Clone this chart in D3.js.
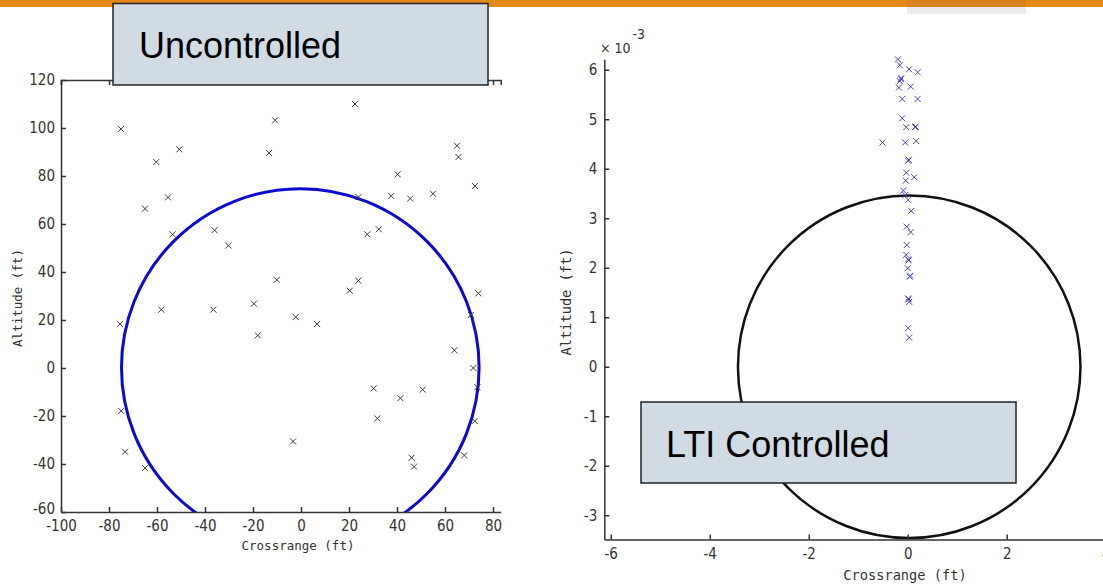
<!DOCTYPE html>
<html>
<head>
<meta charset="utf-8">
<script src="https://cdn.jsdelivr.net/npm/d3@7"></script>
<style>
  html, body { margin: 0; padding: 0; background: #fff; }
  svg { display: block; }
  .tick text { font-family: "Liberation Sans Narrow", "DejaVu Sans Condensed", "Liberation Sans", sans-serif; font-size: 15px; fill: #333; }
  .axlabel { font-family: "DejaVu Sans Mono", monospace; fill: #333; }
</style>
</head>
<body>
<script>
// ---------- DATA ----------
// Uncontrolled (left) scatter, ft
const uncX = [-75, -50.7, -60.3, -55.4, -65, -53.5, -36, -30.3, -58.2, -36.5, -19.6, -10.8, -13.3, -10.1,
  -75.4, -18, -74.9, -73.3, -65, 22.5, 65, 65.6, 40.3, 72.5, 37.6, 45.5, 55, 23.9, 27.6, 32.4, 23.9, 20.3,
  73.9, -2.2, 6.7, 63.9, 70.8, 71.8, 73.5, 30.3, 50.7, 41.4, 31.8, 72.4, -3.3, 46.1, 47.1, 68];
const uncY = [99.6, 91.1, 85.8, 71.1, 66.4, 55.7, 57.4, 51, 24.3, 24.3, 26.8, 103.2, 89.6, 36.7,
  18.3, 13.6, -17.9, -34.9, -41.7, 110, 92.6, 87.9, 80.7, 75.8, 71.7, 70.6, 72.6, 71.2, 55.7, 57.8, 36.4, 32.2,
  31.1, 21.2, 18.3, 7.4, 22.1, 0, -8, -8.5, -9, -12.6, -21, -22.1, -30.6, -37.4, -41.1, -36.4];
// LTI controlled (right) scatter: crossrange (ft), altitude (x10^-3 ft)
const ltiX = [-0.196, -0.16, 0.027, 0.2, -0.14, -0.13, -0.16, -0.18, 0.06, -0.11, 0.2, -0.11, -0.03, 0.15, 0.16,
  -0.51, -0.05, 0.17, 0.01, 0.02, -0.03, 0.13, -0.04, -0.09, -0.05, 0.01, 0.07, -0.02, 0.06, -0.02,
  -0.03, 0.01, 0.02, 0, 0.04, 0.05, 0.01, 0.02, 0.03, 0.01, 0.03];
const ltiY = [6.21, 6.09, 6.01, 5.95, 5.81, 5.83, 5.77, 5.64, 5.66, 5.41, 5.41, 5.02, 4.84, 4.84, 4.85,
  4.53, 4.53, 4.56, 4.16, 4.18, 3.92, 3.83, 3.76, 3.56, 3.47, 3.37, 3.15, 2.83, 2.72, 2.46,
  2.26, 2.17, 2.15, 1.99, 1.82, 1.84, 1.38, 1.36, 1.31, 0.78, 0.59];
// Threshold circles: [centerX, centerY, radius]
const uncCircle = [-0.3, 0.2, 74.5];
const ltiCircle = [0.03, 0, 3.46];
// Ticks
const uncXTicks = [-100, -80, -60, -40, -20, 0, 20, 40, 60, 80];
const uncYTicks = [-60, -40, -20, 0, 20, 40, 60, 80, 100, 120];
const ltiXTicks = [-6, -4, -2, 0, 2, 4];
const ltiYTicks = [-3, -2, -1, 0, 1, 2, 3, 4, 5, 6];
// Labels
const xLabel = "Crossrange (ft)";
const yLabel = "Altitude (ft)";
const boxLabels = ["Uncontrolled", "LTI Controlled"];

// ---------- DRAW ----------
const W = 1103, H = 588;
const svg = d3.select("body").append("svg").attr("width", W).attr("height", H);

// top decoration bar
svg.append("rect").attr("x", 0).attr("y", 0).attr("width", W).attr("height", 7).attr("fill", "#E2891A");
svg.append("rect").attr("x", 907).attr("y", 0).attr("width", 119).attr("height", 7).attr("fill", "#D8821C");
svg.append("rect").attr("x", 907).attr("y", 7).attr("width", 119).attr("height", 7).attr("fill", "#EDEBEB");

function fmt(d) { return String(d); }

function xMarks(g, xs, ys, x, y, color, half) {
  g.selectAll("path.mk").data(xs.map((d, i) => [d, ys[i]])).join("path")
    .attr("class", "mk")
    .attr("d", d => {
      const px = x(d[0]), py = y(d[1]);
      return `M${px - half},${py - half}L${px + half},${py + half}M${px - half},${py + half}L${px + half},${py - half}`;
    })
    .attr("stroke", color).attr("stroke-width", 1).attr("fill", "none");
}

function styleAxis(g) {
  g.selectAll(".domain").attr("stroke", "#333").attr("stroke-width", 1.5);
  g.selectAll(".tick line").attr("stroke", "#333").attr("stroke-width", 1.5);
}

// ----- Left plot -----
{
  const x = d3.scaleLinear().domain([-100, 83.2]).range([61, 500.7]);
  const y = d3.scaleLinear().domain([-60, 120]).range([512, 80]);

  svg.append("clipPath").attr("id", "clipL").append("rect")
    .attr("x", 61).attr("y", 80).attr("width", 440).attr("height", 432);

  const g = svg.append("g");
  g.append("ellipse")
    .attr("clip-path", "url(#clipL)")
    .attr("cx", x(uncCircle[0])).attr("cy", y(uncCircle[1]))
    .attr("rx", x(uncCircle[2]) - x(0)).attr("ry", y(0) - y(uncCircle[2]))
    .attr("fill", "none").attr("stroke", "#0A0AD2").attr("stroke-width", 3);

  xMarks(g, uncX, uncY, x, y, "#3a3a3a", 3);

  // top frame line with ticks
  const gt = svg.append("g").attr("transform", `translate(0,${y(120)})`)
    .call(d3.axisTop(x).tickValues(uncXTicks).tickSize(-5).tickFormat(""));
  styleAxis(gt);
  const gx = svg.append("g").attr("transform", `translate(0,${y(-60)})`)
    .call(d3.axisBottom(x).tickValues(uncXTicks).tickSizeInner(-5).tickSizeOuter(0).tickPadding(8).tickFormat(fmt));
  styleAxis(gx);
  const gy = svg.append("g").attr("transform", `translate(${x(-100)},0)`)
    .call(d3.axisLeft(y).tickValues(uncYTicks).tickSizeInner(-5).tickSizeOuter(0).tickPadding(6).tickFormat(fmt));
  styleAxis(gy);
  // nudge the bottom-most y label up a touch so it clears the x label below it
  gy.selectAll(".tick text").filter(d => d === -60).attr("dy", "0.1em");

  svg.append("text").attr("class", "axlabel").attr("x", 298).attr("y", 550)
    .attr("text-anchor", "middle").style("font-size", "12.5px").text(xLabel);
  svg.append("text").attr("class", "axlabel")
    .attr("transform", "translate(22,298) rotate(-90)")
    .attr("text-anchor", "middle").style("font-size", "12.5px").text(yLabel);
}

// ----- Right plot -----
{
  const x = d3.scaleLinear().domain([-6.13, 4.4]).range([604.3, 604.3 + 10.53 * 49.5]);
  const y = d3.scaleLinear().domain([-3.49, 6.21]).range([539.5, 539.5 - 9.7 * 49.5]);

  const g = svg.append("g");
  g.append("ellipse")
    .attr("cx", x(ltiCircle[0])).attr("cy", y(ltiCircle[1]))
    .attr("rx", x(ltiCircle[2]) - x(0)).attr("ry", y(0) - y(ltiCircle[2]))
    .attr("fill", "none").attr("stroke", "#111").attr("stroke-width", 2.5);

  xMarks(g, ltiX, ltiY, x, y, "#4646C6", 3);

  const gx = svg.append("g").attr("transform", `translate(0,${y(-3.49)})`)
    .call(d3.axisBottom(x).tickValues(ltiXTicks).tickSizeInner(-5).tickSizeOuter(0).tickPadding(9).tickFormat(fmt));
  styleAxis(gx);
  const gy = svg.append("g").attr("transform", `translate(${x(-6.13)},0)`)
    .call(d3.axisLeft(y).tickValues(ltiYTicks).tickSizeInner(-5).tickSizeOuter(0).tickPadding(7).tickFormat(fmt));
  styleAxis(gy);

  // exponent label
  const ex = svg.append("text").attr("x", 600).attr("y", 53)
    .style("font-family", "'Liberation Sans Narrow', 'DejaVu Sans Condensed', 'Liberation Sans', sans-serif")
    .style("font-size", "14px").attr("fill", "#333");
  ex.append("tspan").text("\u00d7 10");
  ex.append("tspan").attr("dx", 2).attr("dy", -14).text("-3");

  svg.append("text").attr("class", "axlabel").attr("x", 905).attr("y", 580)
    .attr("text-anchor", "middle").style("font-size", "13.7px").text(xLabel);
  svg.append("text").attr("class", "axlabel")
    .attr("transform", "translate(571,302) rotate(-90)")
    .attr("text-anchor", "middle").style("font-size", "13.7px").text(yLabel);
}

// ----- Annotation boxes -----
const boxes = [
  { x: 113, y: 3.5, w: 375, h: 81.5, tx: 139, ty: 58 },
  { x: 641, y: 402, w: 375, h: 81, tx: 666, ty: 457 }
];
boxes.forEach((b, i) => {
  svg.append("rect").attr("x", b.x).attr("y", b.y).attr("width", b.w).attr("height", b.h)
    .attr("fill", "#D0DBE3").attr("stroke", "#222").attr("stroke-width", 1.5);
  svg.append("text").attr("x", b.tx).attr("y", b.ty)
    .style("font-family", "'Liberation Sans', Arial, sans-serif").style("font-size", "36px")
    .attr("fill", "#000").text(boxLabels[i]);
});
</script>
</body>
</html>
